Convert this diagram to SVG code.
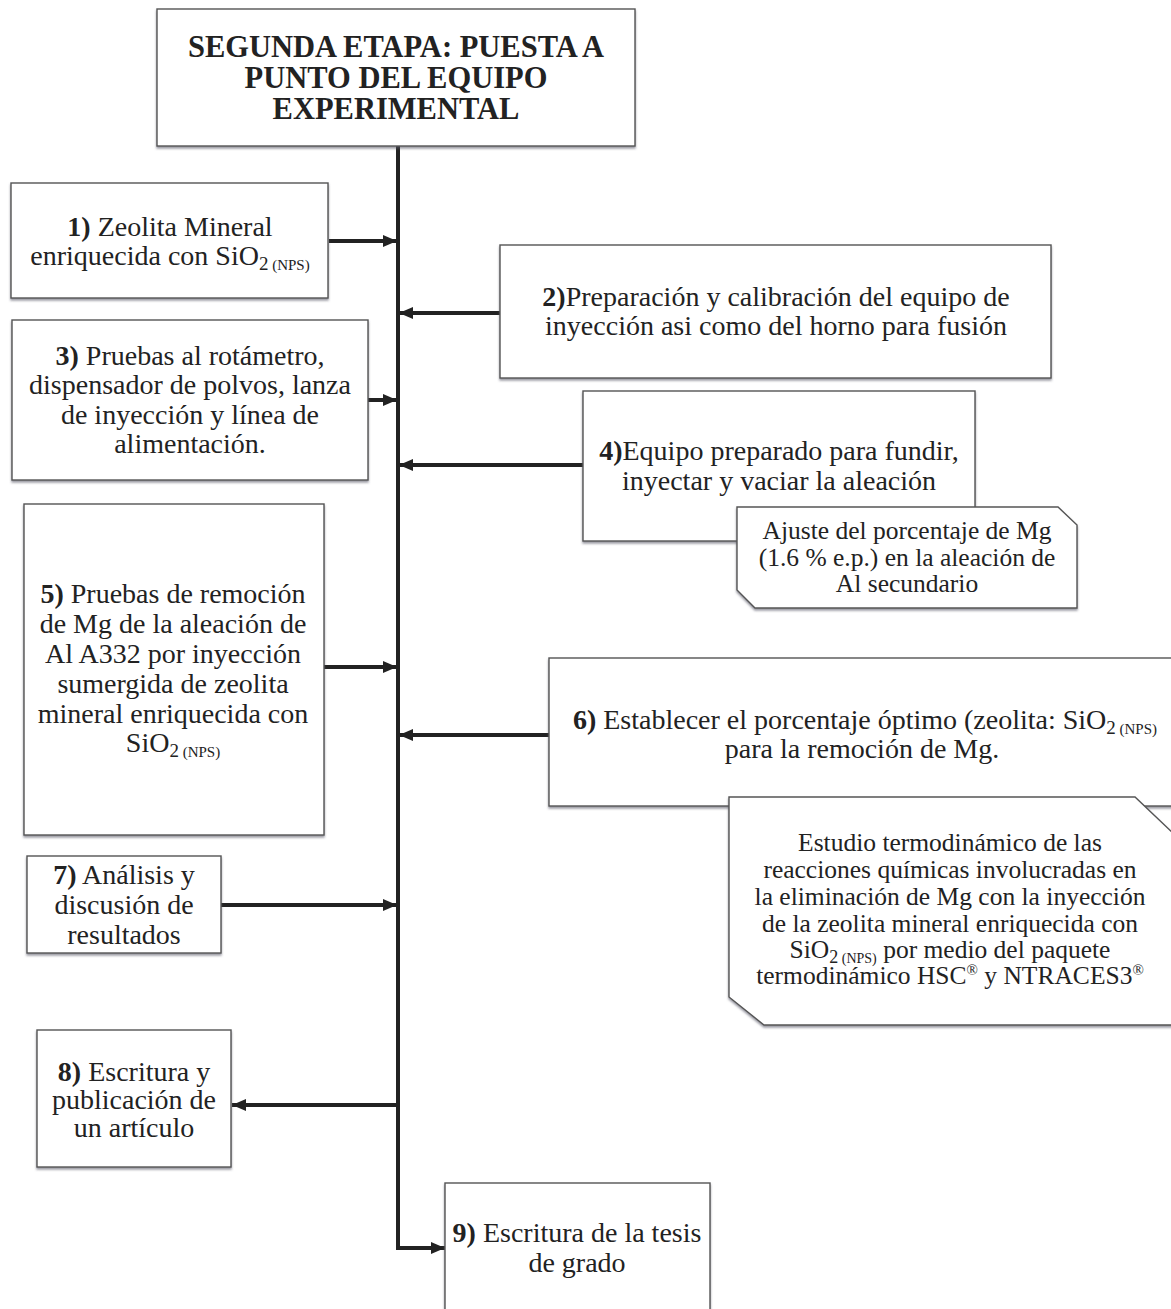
<svg xmlns="http://www.w3.org/2000/svg" width="1171" height="1309" viewBox="0 0 1171 1309">
<style>
.box{fill:#fff;stroke:#555;stroke-width:1.4}
.t{font-family:"Liberation Serif","Times New Roman",serif;font-size:28px;fill:#222;text-anchor:middle}
.n{font-family:"Liberation Serif","Times New Roman",serif;font-size:25.5px;fill:#222;text-anchor:middle}
.title{font-family:"Liberation Serif","Times New Roman",serif;font-size:30.5px;font-weight:bold;fill:#222;text-anchor:middle}
.b{font-weight:bold}
.con{fill:none;stroke:#222;stroke-width:4}
</style>
<defs>
<filter id="sh" x="-5%" y="-5%" width="110%" height="115%">
<feDropShadow dx="0" dy="2" stdDeviation="1.2" flood-color="#556" flood-opacity="0.6"/>
</filter>
<marker id="ah" markerUnits="userSpaceOnUse" markerWidth="14" markerHeight="12" refX="14" refY="6" orient="auto">
<path d="M0,0 L14,6 L0,12 z" fill="#222"/>
</marker>
</defs>
<rect width="1171" height="1309" fill="#fff"/>

<g id="connectors">
<path class="con" d="M398,146 V1248"/>
<line class="con" x1="329" y1="241" x2="397" y2="241" marker-end="url(#ah)"/>
<line class="con" x1="500" y1="313" x2="399" y2="313" marker-end="url(#ah)"/>
<line class="con" x1="368" y1="400" x2="397" y2="400" marker-end="url(#ah)"/>
<line class="con" x1="583" y1="465" x2="399" y2="465" marker-end="url(#ah)"/>
<line class="con" x1="324" y1="667" x2="397" y2="667" marker-end="url(#ah)"/>
<line class="con" x1="549" y1="735" x2="399" y2="735" marker-end="url(#ah)"/>
<line class="con" x1="221" y1="905" x2="397" y2="905" marker-end="url(#ah)"/>
<line class="con" x1="398" y1="1105" x2="232" y2="1105" marker-end="url(#ah)"/>
<line class="con" x1="396" y1="1248" x2="445" y2="1248" marker-end="url(#ah)"/>
</g>

<g id="title">
<rect class="box" x="157" y="9" width="478" height="137" filter="url(#sh)"/>
<text class="title" x="396" y="57">SEGUNDA ETAPA: PUESTA A</text>
<text class="title" x="396" y="88">PUNTO DEL EQUIPO</text>
<text class="title" x="396" y="119">EXPERIMENTAL</text>
</g>

<g id="n1">
<rect class="box" x="11" y="183" width="317" height="115" filter="url(#sh)"/>
<text class="t" x="170" y="236"><tspan class="b">1)</tspan> Zeolita Mineral</text>
<text class="t" x="170" y="265">enriquecida con SiO<tspan font-size="19" dy="5">2</tspan><tspan font-size="15"> (NPS)</tspan></text>
</g>

<g id="n2">
<rect class="box" x="500" y="245" width="551" height="133" filter="url(#sh)"/>
<text class="t" x="776" y="306"><tspan class="b">2)</tspan>Preparación y calibración del equipo de</text>
<text class="t" x="776" y="335">inyección asi como del horno para fusión</text>
</g>

<g id="n3">
<rect class="box" x="12" y="320" width="356" height="160" filter="url(#sh)"/>
<text class="t" x="190" y="365"><tspan class="b">3)</tspan> Pruebas al rotámetro,</text>
<text class="t" x="190" y="394">dispensador de polvos, lanza</text>
<text class="t" x="190" y="424">de inyección y línea de</text>
<text class="t" x="190" y="453">alimentación.</text>
</g>

<g id="n4">
<rect class="box" x="583" y="391" width="392" height="150" filter="url(#sh)"/>
<text class="t" x="779" y="460"><tspan class="b">4)</tspan>Equipo preparado para fundir,</text>
<text class="t" x="779" y="490">inyectar y vaciar la aleación</text>
</g>

<g id="note4">
<path class="box" d="M737,507 H1058 L1077,525 V608 H755 L737,590 Z" filter="url(#sh)"/>
<text class="n" x="907" y="539">Ajuste del porcentaje de Mg</text>
<text class="n" x="907" y="566">(1.6 % e.p.) en la aleación de</text>
<text class="n" x="907" y="592">Al secundario</text>
</g>

<g id="n5">
<rect class="box" x="24" y="504" width="300" height="331" filter="url(#sh)"/>
<text class="t" x="173" y="603"><tspan class="b">5)</tspan> Pruebas de remoción</text>
<text class="t" x="173" y="633">de Mg de la aleación de</text>
<text class="t" x="173" y="663">Al A332 por inyección</text>
<text class="t" x="173" y="693">sumergida de zeolita</text>
<text class="t" x="173" y="723">mineral enriquecida con</text>
<text class="t" x="173" y="752">SiO<tspan font-size="19" dy="5">2</tspan><tspan font-size="15"> (NPS)</tspan></text>
</g>

<g id="n6">
<rect class="box" x="549" y="658" width="630" height="148" filter="url(#sh)"/>
<text class="t" x="865" y="729"><tspan class="b">6)</tspan> Establecer el porcentaje óptimo (zeolita: SiO<tspan font-size="19" dy="5">2</tspan><tspan font-size="15"> (NPS)</tspan></text>
<text class="t" x="862" y="758">para la remoción de Mg.</text>
</g>

<g id="note6">
<path class="box" d="M729,797 H1135 L1175,835 V1025 H764 L729,997 Z" filter="url(#sh)"/>
<text class="n" x="950" y="851">Estudio termodinámico de las</text>
<text class="n" x="950" y="878">reacciones químicas involucradas en</text>
<text class="n" x="950" y="905">la eliminación de Mg con la inyección</text>
<text class="n" x="950" y="932">de la zeolita mineral enriquecida con</text>
<text class="n" x="950" y="958">SiO<tspan font-size="18" dy="5">2</tspan><tspan font-size="14"> (NPS)</tspan><tspan dy="-5"> por medio del paquete</tspan></text>
<text class="n" x="950" y="984">termodinámico HSC<tspan font-size="15" dy="-9">®</tspan><tspan dy="9"> y NTRACES3</tspan><tspan font-size="15" dy="-9">®</tspan></text>
</g>

<g id="n7">
<rect class="box" x="27" y="856" width="194" height="97" filter="url(#sh)"/>
<text class="t" x="124" y="884"><tspan class="b">7)</tspan> Análisis y</text>
<text class="t" x="124" y="914">discusión de</text>
<text class="t" x="124" y="944">resultados</text>
</g>

<g id="n8">
<rect class="box" x="37" y="1030" width="194" height="137" filter="url(#sh)"/>
<text class="t" x="134" y="1081"><tspan class="b">8)</tspan> Escritura y</text>
<text class="t" x="134" y="1109">publicación de</text>
<text class="t" x="134" y="1137">un artículo</text>
</g>

<g id="n9">
<rect class="box" x="445" y="1183" width="265" height="140" filter="url(#sh)"/>
<text class="t" x="577" y="1242"><tspan class="b">9)</tspan> Escritura de la tesis</text>
<text class="t" x="577" y="1272">de grado</text>
</g>
</svg>
